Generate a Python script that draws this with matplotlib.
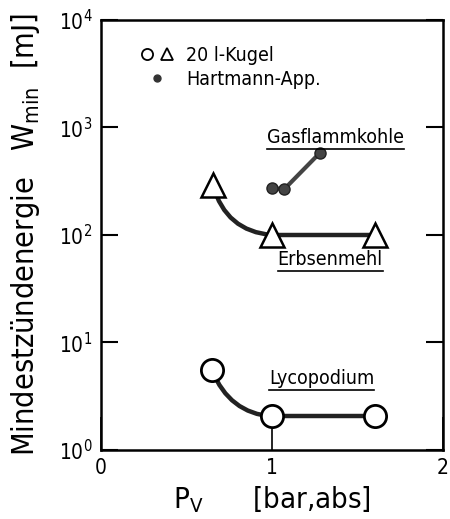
import matplotlib
matplotlib.use('Agg')
import matplotlib.pyplot as plt
from matplotlib.path import Path
from matplotlib.patches import PathPatch
from matplotlib.legend_handler import HandlerTuple
from matplotlib.lines import Line2D

plt.rcParams['font.family'] = ['DejaVu Sans']
plt.rcParams['font.stretch'] = 'condensed'
plt.rcParams['mathtext.default'] = 'regular'

# data
lyco_p = [0.65, 1.0, 1.6]
lyco_w = [5.5, 2.05, 2.05]
erbs_p = [0.655, 1.0, 1.6]
erbs_w = [290, 100, 100]
gas_p = [1.0, 1.07, 1.28]
gas_w = [275, 265, 580]

# bend point of the curved first segment (p, W)
lyco_bend = (0.75, 2.2)
erbs_bend = (0.73, 108)

fig = plt.figure(figsize=(4.5, 5.19), dpi=100)
ax = fig.add_axes([0.2244, 0.133, 0.76, 0.8285])
ax.set_yscale('log')
ax.set_xlim(0, 2)
ax.set_ylim(1, 1e4)

lw = 3.2
col = '#222222'


def curve_then_line(p, w, bend):
    path = Path([(p[0], w[0]), bend, (p[1], w[1])],
                [Path.MOVETO, Path.CURVE3, Path.CURVE3])
    ax.add_patch(PathPatch(path, fc='none', ec=col, lw=lw, zorder=2))
    ax.plot(p[1:], w[1:], color=col, lw=lw, zorder=2)


curve_then_line(lyco_p, lyco_w, lyco_bend)
curve_then_line(erbs_p, erbs_w, erbs_bend)
ax.plot(lyco_p, lyco_w, 'o', ms=16, mfc='white', mec='black', mew=2, zorder=3)
ax.plot(erbs_p, erbs_w, '^', ms=17, mfc='white', mec='black', mew=1.8, zorder=3)
ax.plot(gas_p, gas_w, '-o', color='#444444', lw=3, ms=8, mec='#222222', zorder=3)

labels = [('Gasflammkohle', 1.37, 800),
          ('Erbsenmehl', 1.34, 59),
          ('Lycopodium', 1.29, 4.6)]
texts = []
for s, x, y in labels:
    texts.append(ax.text(x, y, s, ha='center', va='center', fontsize=14))

# legend
h1 = Line2D([], [], ls='', marker='o', ms=8, mfc='white', mec='black', mew=1.3)
h2 = Line2D([], [], ls='', marker='^', ms=9, mfc='white', mec='black', mew=1.3)
h3 = Line2D([], [], ls='', marker='o', ms=5, color='#333333')
ax.legend([(h1, h2), h3], ['20 l-Kugel', 'Hartmann-App.'],
          handler_map={tuple: HandlerTuple(ndivide=None, pad=0.1)},
          loc='upper left', bbox_to_anchor=(0.055, 0.98), frameon=False,
          fontsize=14, handlelength=2.0, handletextpad=0.5, labelspacing=0.25)

for sp in ax.spines.values():
    sp.set_linewidth(1.8)
ax.set_xticks([0, 1, 2])
ax.set_xticklabels(['0', '1', '2'])
ax.tick_params(axis='x', direction='in', length=24, width=1.2,
               labelsize=15, pad=6)
ax.set_yticks([1, 10, 100, 1000, 10000])
ax.set_yticks([], minor=True)
ax.set_yticklabels([r'$10^{0}$', r'$10^{1}$', r'$10^{2}$', r'$10^{3}$', r'$10^{4}$'])
ax.tick_params(axis='y', which='major', direction='in', length=12, width=1.5,
               right=True, labelsize=15, pad=6)
ax.tick_params(axis='x', which='minor', bottom=False)

ax.set_ylabel('Mindestzündenergie   W$_{min}$  [mJ]', fontsize=22, labelpad=12)
ax.set_xlabel('P$_V$      [bar,abs]', fontsize=21, labelpad=4)

# underline the material names
fig.canvas.draw()
for t in texts:
    bb = t.get_window_extent()
    fig.add_artist(Line2D([bb.x0, bb.x1], [bb.y0 - 2, bb.y0 - 2],
                          color='black', lw=1.2, transform=None))

fig.savefig('out.png', dpi=100)
